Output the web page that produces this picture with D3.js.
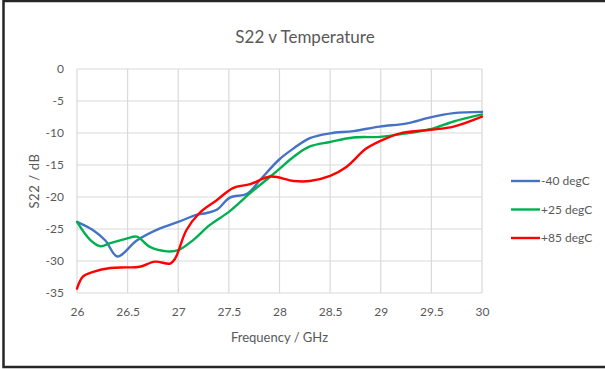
<!DOCTYPE html>
<html><head><meta charset="utf-8">
<script src="https://cdn.jsdelivr.net/npm/d3@7"></script>
<style>body{margin:0;background:#fff;}svg{display:block;}</style>
</head><body>
<div id="chart"></div>
<script>
const title = "S22 v Temperature";
const xLabel = "Frequency / GHz";
const yLabel = "S22 / dB";
const xTicks = [26, 26.5, 27, 27.5, 28, 28.5, 29, 29.5, 30];
const yTicks = [0, -5, -10, -15, -20, -25, -30, -35];
const seriesNames = ["-40 degC", "+25 degC", "+85 degC"];
const seriesColors = ["#4472C4", "#00B050", "#FF0000"];

const freqM40 = [26, 26.16, 26.28, 26.40, 26.59, 26.82, 27.0, 27.18, 27.28, 27.38, 27.51, 27.68, 27.81, 28.0, 28.14, 28.30, 28.50, 28.73, 28.99, 29.26, 29.49, 29.72, 30];
const valM40  = [-23.9, -25.2, -26.8, -29.3, -26.8, -24.9, -23.9, -22.8, -22.5, -22.0, -20.1, -19.5, -17.3, -14.1, -12.4, -10.8, -10.05, -9.7, -9.0, -8.5, -7.55, -6.9, -6.7];

const freqP25 = [26, 26.13, 26.23, 26.33, 26.49, 26.59, 26.72, 26.89, 27.0, 27.15, 27.31, 27.51, 27.71, 27.91, 28.0, 28.14, 28.30, 28.50, 28.73, 28.99, 29.26, 29.49, 29.72, 30];
const valP25  = [-23.9, -26.7, -27.7, -27.2, -26.5, -26.2, -27.8, -28.5, -28.3, -26.7, -24.4, -22.2, -19.4, -16.8, -15.6, -13.7, -12.1, -11.4, -10.7, -10.6, -10.05, -9.4, -8.2, -7.1];

const freqP85 = [26, 26.06, 26.16, 26.33, 26.49, 26.62, 26.77, 26.92, 26.97, 27.08, 27.21, 27.38, 27.54, 27.71, 27.91, 28.14, 28.30, 28.50, 28.66, 28.86, 29.06, 29.22, 29.49, 29.72, 30];
const valP85  = [-34.3, -32.4, -31.7, -31.1, -31.0, -30.9, -30.1, -30.4, -29.6, -25.2, -22.5, -20.5, -18.6, -18.0, -16.8, -17.5, -17.5, -16.7, -15.3, -12.4, -10.8, -9.95, -9.5, -9.0, -7.45];

const W = 605, H = 369;
const svg = d3.select("#chart").append("svg").attr("width", W).attr("height", H);
const font = "Lato, 'Open Sans', sans-serif";
const textColor = "#595959";

// frame
svg.append("rect").attr("x", 3.5).attr("y", 1).attr("width", 640).attr("height", 366)
  .attr("fill", "#fff").attr("stroke", "#262626").attr("stroke-width", 2.5);

const x = d3.scaleLinear().domain([26, 30]).range([77, 482]);
const y = d3.scaleLinear().domain([-35, 0]).range([293, 69]);

// gridlines
const grid = svg.append("g").attr("stroke", "#d9d9d9").attr("stroke-width", 1.2);
grid.selectAll("line.h").data(yTicks).join("line").attr("class", "h")
  .attr("x1", x(26)).attr("x2", x(30)).attr("y1", d => y(d)).attr("y2", d => y(d));
grid.selectAll("line.v").data(xTicks).join("line").attr("class", "v")
  .attr("y1", y(0)).attr("y2", y(-35)).attr("x1", d => x(d)).attr("x2", d => x(d));

// axes (text only)
const xAxis = d3.axisBottom(x).tickValues(xTicks).tickSize(0).tickPadding(14).tickFormat(d => String(d));
const gx = svg.append("g").attr("transform", `translate(0,${y(-35)})`).call(xAxis);
gx.select(".domain").remove();
gx.selectAll("text").attr("fill", textColor).style("font-family", font).style("font-size", "12px");

const yAxis = d3.axisLeft(y).tickValues(yTicks).tickSize(0).tickPadding(13).tickFormat(d => String(d));
const gy = svg.append("g").attr("transform", `translate(${x(26)},0)`).call(yAxis);
gy.select(".domain").remove();
gy.selectAll("text").attr("fill", textColor).style("font-family", font).style("font-size", "12px");

// title & labels
svg.append("text").attr("x", 305).attr("y", 43).attr("text-anchor", "middle")
  .attr("fill", textColor).style("font-family", font).style("font-size", "17px").text(title);
svg.append("text").attr("x", (x(26) + x(30)) / 2).attr("y", 342).attr("text-anchor", "middle")
  .attr("fill", textColor).style("font-family", font).style("font-size", "13px").text(xLabel);
svg.append("text").attr("transform", `translate(39,${(y(0) + y(-35)) / 2}) rotate(-90)`)
  .attr("text-anchor", "middle").attr("fill", textColor).style("letter-spacing", "0.6px")
  .style("font-family", font).style("font-size", "13px").text(yLabel);

// series
const series = [
  {name: seriesNames[0], color: seriesColors[0], f: freqM40, v: valM40},
  {name: seriesNames[1], color: seriesColors[1], f: freqP25, v: valP25},
  {name: seriesNames[2], color: seriesColors[2], f: freqP85, v: valP85}
];
const line = d3.line().x(d => x(d[0])).y(d => y(d[1])).curve(d3.curveCatmullRom.alpha(0.5));
svg.append("g").selectAll("path").data(series).join("path")
  .attr("d", s => line(s.f.map((f, i) => [f, s.v[i]])))
  .attr("fill", "none").attr("stroke", s => s.color).attr("stroke-width", 2.4)
  .attr("stroke-linejoin", "round").attr("stroke-linecap", "round");

// legend
const leg = svg.append("g");
const legY = [181, 209.5, 238];
series.forEach((s, i) => {
  leg.append("line").attr("x1", 511).attr("x2", 540).attr("y1", legY[i]).attr("y2", legY[i])
    .attr("stroke", s.color).attr("stroke-width", 2.4);
  leg.append("text").attr("x", 541).attr("y", legY[i]).attr("dy", "0.35em")
    .attr("fill", textColor).style("font-family", font).style("font-size", "12px").text(s.name);
});
</script>
</body></html>
